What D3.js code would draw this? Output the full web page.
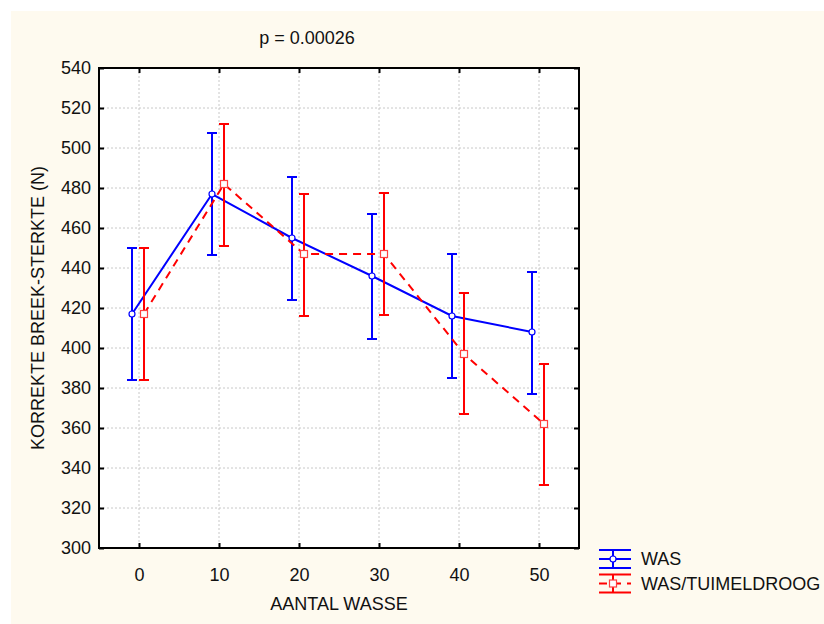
<!DOCTYPE html>
<html>
<head>
<meta charset="utf-8">
<script src="https://cdn.jsdelivr.net/npm/d3@7"></script>
<style>
  body { margin: 0; background: #fff; }
  text { font-family: "Liberation Sans", Arial, sans-serif; fill: #111; }
</style>
</head>
<body>
<svg id="chart" width="824" height="624"></svg>
<script>
// data
var wasse = [0, 10, 20, 30, 40, 50];
var wasMean = [417, 477, 455, 436, 416, 408];
var wasHi   = [450, 507.5, 485.5, 467, 447, 438];
var wasLo   = [384, 446.5, 424, 404.5, 385, 377];
var droogMean = [417, 482, 447, 447, 397, 362];
var droogHi   = [450, 512, 477, 477.5, 427.5, 392];
var droogLo   = [384, 451, 416, 416.5, 367, 331.5];
var yTicks = [300, 320, 340, 360, 380, 400, 420, 440, 460, 480, 500, 520, 540];
var seriesNames = ["WAS", "WAS/TUIMELDROOG"];

var svg = d3.select("#chart");
var pl = 99, pr = 579, pt = 68, pb = 548;
var fs = 18;

svg.append("rect").attr("x", 11).attr("y", 11).attr("width", 813).attr("height", 613).attr("fill", "#fefaef");
svg.append("rect").attr("x", pl).attr("y", pt).attr("width", pr - pl).attr("height", pb - pt).attr("fill", "#fff");

var x = d3.scaleLinear().domain([-5, 55]).range([pl, pr]);
var y = d3.scaleLinear().domain([300, 540]).range([pb, pt]);

// grid
svg.append("g").selectAll("line").data(wasse).enter().append("line")
    .attr("x1", d => x(d)).attr("x2", d => x(d))
    .attr("y1", pt).attr("y2", pb)
    .attr("stroke", "#c8c8c8").attr("stroke-dasharray", "2,2");
svg.append("g").selectAll("line").data(yTicks.slice(1, -1)).enter().append("line")
    .attr("y1", d => y(d)).attr("y2", d => y(d))
    .attr("x1", pl).attr("x2", pr)
    .attr("stroke", "#c8c8c8").attr("stroke-dasharray", "2,2");

// axes, ticks point inwards
var gx = svg.append("g").attr("transform", `translate(0,${pb})`)
    .call(d3.axisBottom(x).tickValues(wasse).tickSize(-5).tickPadding(20));
var gy = svg.append("g").attr("transform", `translate(${pl},0)`)
    .call(d3.axisLeft(y).tickValues(yTicks).tickSize(-5).tickPadding(8));
var gt = svg.append("g").attr("transform", `translate(0,${pt})`)
    .call(d3.axisTop(x).tickValues(wasse).tickSize(-5).tickFormat(""));
var gr = svg.append("g").attr("transform", `translate(${pr},0)`)
    .call(d3.axisRight(y).tickValues(yTicks).tickSize(-5).tickFormat(""));
[gx, gy, gt, gr].forEach(g => {
    g.select(".domain").remove();
    g.selectAll(".tick line").attr("stroke", "#000").attr("stroke-width", 2);
    g.selectAll("text").attr("font-size", fs).attr("fill", "#111").style("font-family", '"Liberation Sans", Arial, sans-serif');
});
svg.append("rect").attr("x", pl).attr("y", pt).attr("width", pr - pl).attr("height", pb - pt)
    .attr("fill", "none").attr("stroke", "#000").attr("stroke-width", 2);

function drawSeries(mean, hi, lo, color, shift, dash, marker) {
    var g = svg.append("g");
    var pts = wasse.map((w, i) => ({ w: w, m: mean[i], h: hi[i], l: lo[i] }));
    var line = d3.line().x(d => x(d.w) + shift).y(d => y(d.m));
    g.append("path").datum(pts).attr("d", line).attr("fill", "none")
        .attr("stroke", color).attr("stroke-width", 2).attr("stroke-dasharray", dash);
    g.selectAll(".bar").data(pts).enter().append("line")
        .attr("x1", d => x(d.w) + shift).attr("x2", d => x(d.w) + shift)
        .attr("y1", d => y(d.h)).attr("y2", d => y(d.l))
        .attr("stroke", color).attr("stroke-width", 2);
    ["h", "l"].forEach(k => {
        g.selectAll(".cap" + k).data(pts).enter().append("line")
            .attr("x1", d => x(d.w) + shift - 5).attr("x2", d => x(d.w) + shift + 5)
            .attr("y1", d => y(d[k])).attr("y2", d => y(d[k]))
            .attr("stroke", color).attr("stroke-width", 2);
    });
    if (marker == "circle") {
        g.selectAll("circle").data(pts).enter().append("circle")
            .attr("cx", d => x(d.w) + shift).attr("cy", d => y(d.m)).attr("r", 3)
            .attr("fill", "#fff").attr("stroke", color).attr("stroke-width", 1.2);
    } else {
        g.selectAll("rect").data(pts).enter().append("rect")
            .attr("x", d => x(d.w) + shift - 3.5).attr("y", d => y(d.m) - 3.5)
            .attr("width", 7).attr("height", 7)
            .attr("fill", "#fff").attr("stroke", "#ff4040").attr("stroke-width", 1.2);
    }
}
drawSeries(wasMean, wasHi, wasLo, "#0000ff", -7, null, "circle");
drawSeries(droogMean, droogHi, droogLo, "#ff0000", 5, "8,6", "square");

// titles
svg.append("text").attr("x", 307).attr("y", 44).attr("text-anchor", "middle").attr("font-size", fs).text("p = 0.00026");
svg.append("text").attr("x", 339).attr("y", 610).attr("text-anchor", "middle").attr("font-size", fs).text("AANTAL WASSE");
svg.append("text").attr("transform", `translate(44,${(pt + pb) / 2}) rotate(-90)`)
    .attr("text-anchor", "middle").attr("font-size", fs).text("KORREKTE BREEK-STERKTE (N)");

// legend
var legColors = ["#0000ff", "#ff0000"];
var leg = svg.append("g");
seriesNames.forEach((name, i) => {
    var cy = 559 + i * 24.5, c = legColors[i];
    var gl = leg.append("g");
    gl.append("line").attr("x1", 599).attr("x2", 631).attr("y1", cy - 9).attr("y2", cy - 9).attr("stroke", c).attr("stroke-width", 2);
    gl.append("line").attr("x1", 599).attr("x2", 631).attr("y1", cy + 9).attr("y2", cy + 9).attr("stroke", c).attr("stroke-width", 2);
    gl.append("line").attr("x1", 613).attr("x2", 613).attr("y1", cy - 9).attr("y2", cy + 9).attr("stroke", c).attr("stroke-width", 2);
    gl.append("line").attr("x1", 599).attr("x2", 631).attr("y1", cy).attr("y2", cy).attr("stroke", c).attr("stroke-width", 2)
        .attr("stroke-dasharray", i ? "8,6" : null);
    if (i == 0) {
        gl.append("circle").attr("cx", 613).attr("cy", cy).attr("r", 3).attr("fill", "#fff").attr("stroke", c).attr("stroke-width", 1.2);
    } else {
        gl.append("rect").attr("x", 609.5).attr("y", cy - 3.5).attr("width", 7).attr("height", 7).attr("fill", "#fff").attr("stroke", "#ff4040").attr("stroke-width", 1.2);
    }
    gl.append("text").attr("x", 641).attr("y", cy + 6).attr("font-size", fs).text(name);
});
</script>
</body>
</html>
